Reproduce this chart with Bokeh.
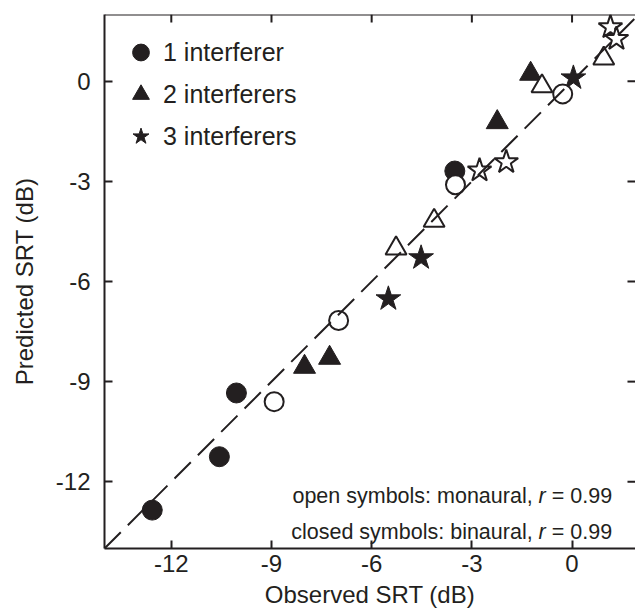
from bokeh.plotting import figure
from bokeh.models import (Range1d, FixedTicker, PrintfTickFormatter, Legend,
                          LegendItem, Label, Slope, Span)
from bokeh.embed import file_html
from bokeh.resources import INLINE

INK = "#231f20"
FONT = "Liberation Sans"

# Observed vs. predicted speech reception thresholds (dB)
# 1 interferer
obs_1_bin = [-12.57, -10.56, -10.05, -3.51]
pred_1_bin = [-12.85, -11.25, -9.34, -2.69]
obs_1_mon = [-8.92, -6.99, -3.49, -0.28]
pred_1_mon = [-9.60, -7.17, -3.10, -0.38]
# 2 interferers
obs_2_bin = [-8.01, -7.26, -2.24, -1.24]
pred_2_bin = [-8.56, -8.29, -1.23, 0.22]
obs_2_mon = [-5.27, -4.13, -0.90, 0.95]
pred_2_mon = [-5.01, -4.18, -0.15, 0.68]
# 3 interferers
obs_3_bin = [-5.50, -4.52, 0.04]
pred_3_bin = [-6.52, -5.29, 0.10]
obs_3_mon = [-2.77, -1.97, 1.15, 1.33]
pred_3_mon = [-2.67, -2.42, 1.62, 1.27]

tick_values = [-12, -9, -6, -3, 0]
legend_labels = ["1 interferer", "2 interferers", "3 interferers"]
NBSP = "\u00a0"
note_monaural = ("open symbols: monaural," + NBSP, "r", NBSP + "= 0.99")
note_binaural = ("closed symbols: binaural," + NBSP, "r", NBSP + "= 0.99")

X0, X1 = -14, 1.9
Y0, Y1 = -14, 2

p = figure(width=635, height=612, output_backend="svg", toolbar_location=None,
           x_range=Range1d(X0, X1), y_range=Range1d(Y0, Y1),
           x_axis_label="Observed SRT (dB)", y_axis_label="Predicted SRT (dB)",
           min_border_left=104, min_border_top=14, min_border_right=0,
           min_border_bottom=64)
p.outline_line_color = None
p.xgrid.visible = False
p.ygrid.visible = False
p.background_fill_color = "white"
p.border_fill_color = "white"

ticker = FixedTicker(ticks=tick_values)

for ax in (p.xaxis[0], p.yaxis[0]):
    ax.ticker = ticker
    ax.formatter = PrintfTickFormatter(format="%d")
    ax.minor_tick_line_color = None
    ax.major_tick_in = 8
    ax.major_tick_out = 0
    ax.major_tick_line_width = 2
    ax.major_tick_line_color = INK
    ax.axis_line_width = 2
    ax.axis_line_color = INK
    ax.major_label_text_font = FONT
    ax.major_label_text_font_size = "24px"
    ax.major_label_text_color = INK
    ax.axis_label_text_font = FONT
    ax.axis_label_text_font_size = "24px"
    ax.axis_label_text_font_style = "normal"
    ax.axis_label_text_color = INK

p.xaxis[0].major_label_standoff = 6
p.xaxis[0].axis_label_standoff = 6
p.yaxis[0].major_label_standoff = 14
p.yaxis[0].axis_label_standoff = 15

# top border with inward ticks, and inward ticks along the right edge
TICK = 0.24
p.add_layout(Span(location=Y1, dimension="width", line_color=INK, line_width=2))
p.segment(x0=tick_values, x1=tick_values, y0=[Y1] * len(tick_values),
          y1=[Y1 - TICK] * len(tick_values), line_color=INK, line_width=2)
p.segment(x0=[X1 - TICK] * len(tick_values), x1=[X1] * len(tick_values),
          y0=tick_values, y1=tick_values, line_color=INK, line_width=2)

# binaural (closed) symbols first, monaural (open) symbols on top
r1 = p.scatter(obs_1_bin, pred_1_bin, marker="circle", size=20,
               fill_color=INK, line_color=INK, line_width=1)
r2 = p.scatter(obs_2_bin, pred_2_bin, marker="triangle", size=22,
               fill_color=INK, line_color=INK, line_width=1)
r3 = p.scatter(obs_3_bin, pred_3_bin, marker="star", size=26,
               fill_color=INK, line_color=INK, line_width=1)
p.scatter(obs_1_mon, pred_1_mon, marker="circle", size=19,
          fill_color="white", line_color=INK, line_width=2)
p.scatter(obs_2_mon, pred_2_mon, marker="triangle", size=21,
          fill_color="white", line_color=INK, line_width=2)
p.scatter(obs_3_mon, pred_3_mon, marker="star", size=25,
          fill_color="white", line_color=INK, line_width=2)

# identity line
p.add_layout(Slope(gradient=1, y_intercept=0, line_color=INK, line_width=2,
                   line_dash="23 10"))

legend = Legend(items=[LegendItem(label=lab, renderers=[r])
                       for lab, r in zip(legend_labels, [r1, r2, r3])],
                location=(14, 391), margin=0, padding=0, spacing=0,
                glyph_width=45, glyph_height=42, label_standoff=-5,
                border_line_color=None, background_fill_alpha=0,
                label_text_font=FONT, label_text_font_size="25px",
                label_text_color=INK)
p.add_layout(legend)

# correlation notes, right-aligned, with an italic r
NOTE_SIZE = 21.5
SUFFIX_W = 3.086 * NOTE_SIZE
R_W = 0.333 * NOTE_SIZE
for parts, y in [(note_monaural, -12.42), (note_binaural, -13.50)]:
    pre, r, suf = parts
    for txt, off, style in [(suf, 0, "normal"), (r, -SUFFIX_W, "italic"),
                            (pre, -SUFFIX_W - R_W, "normal")]:
        p.add_layout(Label(x=1.2, y=y, text=txt, x_offset=off,
                           text_align="right", text_baseline="alphabetic",
                           text_font=FONT, text_font_size=f"{NOTE_SIZE}px",
                           text_font_style=style, text_color=INK))

open("out.html", "w").write(file_html(p, INLINE))
